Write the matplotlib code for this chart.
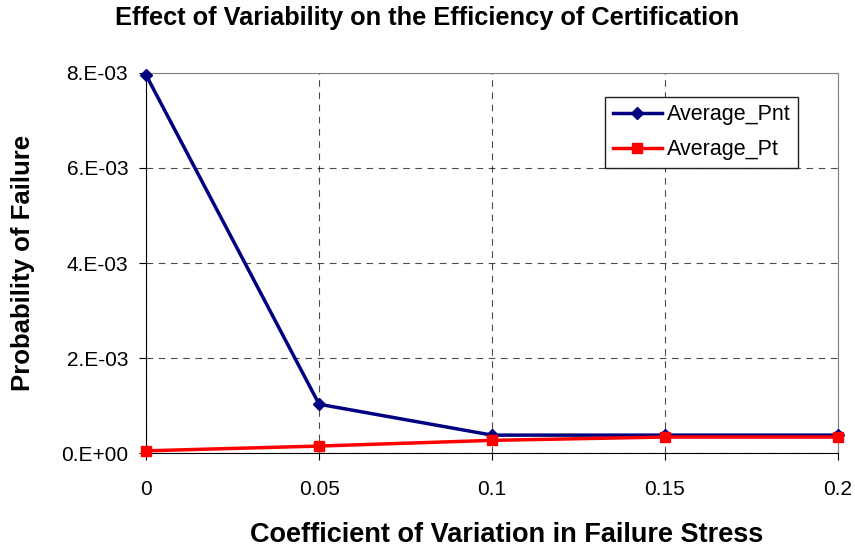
import matplotlib
matplotlib.use('Agg')
import matplotlib.pyplot as plt

cov = [0, 0.05, 0.1, 0.15, 0.2]
average_pnt = [7.95e-3, 1.03e-3, 0.38e-3, 0.38e-3, 0.38e-3]
average_pt = [0.05e-3, 0.15e-3, 0.27e-3, 0.34e-3, 0.34e-3]
yticks = [0, 2e-3, 4e-3, 6e-3, 8e-3]
ylabels = ['0.E+00', '2.E-03', '4.E-03', '6.E-03', '8.E-03']

plt.rcParams['font.family'] = ['Liberation Sans', 'DejaVu Sans']

fig = plt.figure(figsize=(8.55, 5.48), dpi=100)
ax = fig.add_axes([0.171, 0.173, 0.809, 0.694])

ax.plot(cov, average_pnt, color='#000080', marker='D', markersize=6.5, linewidth=2.5, label='Average_Pnt', clip_on=False, zorder=4)
ax.plot(cov, average_pt, color='#ff0000', marker='s', markersize=7.5, linewidth=2.5, label='Average_Pt', clip_on=False, zorder=5)

ax.set_xlim(0, 0.2)
ax.set_ylim(0, 8e-3)
ax.set_xticks(cov)
ax.set_xticklabels(['0', '0.05', '0.1', '0.15', '0.2'])
ax.set_yticks(yticks)
ax.set_yticklabels(ylabels)
ax.tick_params(labelsize=15, direction='out', length=5)
ax.tick_params(axis='x', pad=14)
ax.tick_params(axis='y', pad=8)
ax.grid(True, color='black', linestyle=(0, (6, 5)), linewidth=0.8, alpha=0.7)

for s in ['top', 'right']:
    ax.spines[s].set_color('#808080')
for s in ['left', 'bottom']:
    ax.spines[s].set_color('black')

fig.text(0.5, 0.967, 'Effect of Variability on the Efficiency of Certification', fontsize=18.3, fontweight='bold', ha='center', va='center')
fig.text(0.593, 0.024, 'Coefficient of Variation in Failure Stress', fontsize=19.5, fontweight='bold', ha='center', va='center')
fig.text(0.027, 0.52, 'Probability of Failure', fontsize=18.5, fontweight='bold', ha='center', va='center', rotation=90)

leg = ax.legend(loc='upper right', bbox_to_anchor=(0.942, 0.937), borderaxespad=0, fontsize=15.5,
                fancybox=False, edgecolor='#202020', framealpha=1, handlelength=2.3, handletextpad=0.2,
                borderpad=0.35, labelspacing=0.65)
leg.get_frame().set_linewidth(1.0)

fig.savefig('out.png', dpi=100)
